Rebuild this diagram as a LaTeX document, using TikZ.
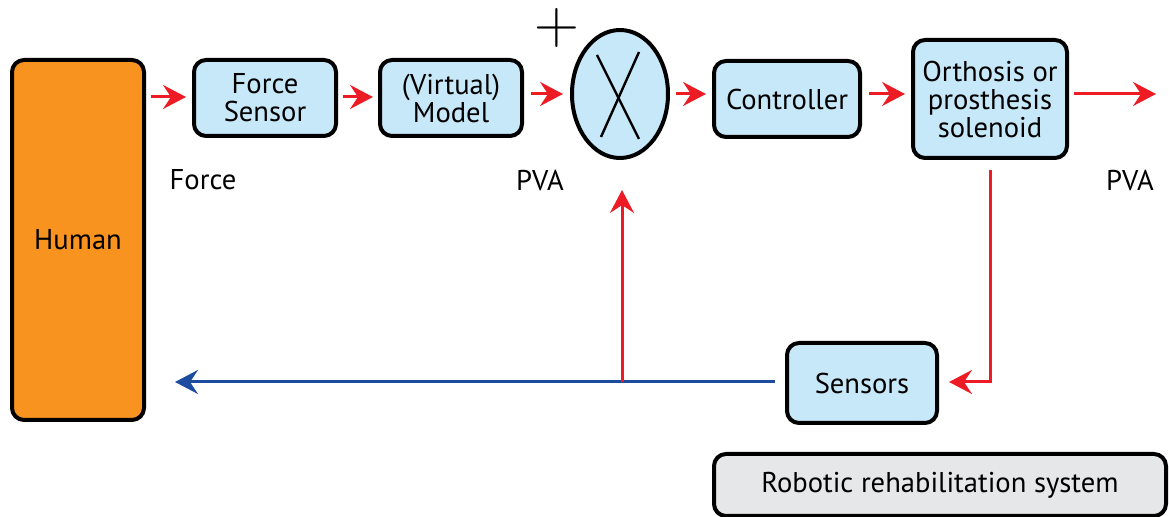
\documentclass[tikz,border=0pt]{standalone}
\usepackage{fontspec}
\setmainfont{PT Sans}
\usetikzlibrary{arrows.meta,shapes.geometric}
\definecolor{boxblue}{HTML}{C7E8F9}
\definecolor{humanorange}{HTML}{F7931E}
\definecolor{sysgray}{HTML}{E6E7E8}
\definecolor{arrred}{HTML}{ED1C24}
\definecolor{arrblue}{HTML}{1D4C9E}
\tikzset{
  x=0.5pt, y=-0.5pt,
  every node/.style={font=\fontsize{14.3}{14}\selectfont},
  blk/.style={draw=black, line width=2pt, rounded corners=6pt, fill=boxblue, align=center, inner sep=0pt},
  redarr/.style={draw=arrred, line width=1.5pt, -{Stealth[length=11.5pt,width=12pt,inset=4pt]}},
  bluearr/.style={draw=arrblue, line width=1.5pt, -{Stealth[length=11.5pt,width=12pt,inset=4pt]}},
  lbl/.style={inner sep=0pt}
}
\begin{document}
\begin{tikzpicture}
\useasboundingbox (0,0) rectangle (1169,517);
% nodes
\node[blk, fill=humanorange, minimum width=66pt, minimum height=180pt] (human) at (78,240) {Human};
\node[blk, minimum width=71pt, minimum height=38pt] (fs) at (265,98) {Force\\Sensor};
\node[blk, minimum width=71pt, minimum height=38pt] (vm) at (451,98) {(Virtual)\\Model};
\node[draw=black, line width=2pt, fill=boxblue, ellipse, minimum width=48pt, minimum height=64pt, inner sep=0pt] (sum) at (620,94) {};
\draw[line width=1.2pt] (597,55) -- (639,139);
\draw[line width=1.2pt] (639,52) -- (601,137);
\node[lbl, font=\fontsize{24.88}{25}\selectfont] (plus) at (557,28) {\scalebox{1.25}{$+$}};
\node[blk, minimum width=73pt, minimum height=38pt] (ctrl) at (787,99) {Controller};
\node[blk, minimum width=77pt, minimum height=59pt] (orth) at (990,99) {Orthosis or\\prosthesis\\solenoid};
\node[blk, minimum width=75pt, minimum height=40pt] (sens) at (862,383) {Sensors};
\node[blk, fill=sysgray, minimum width=226pt, minimum height=31pt] (sys) at (940,485) {Robotic rehabilitation system};
% labels
\node[lbl] (lforce) at (203,180) {Force};
\node[lbl] (lpva1) at (540,180) {PVA};
\node[lbl] (lpva2) at (1130,180) {PVA};
% coordinates
\coordinate (outend) at (1156,94);
\coordinate (corner) at (990,382);
\coordinate (junc) at (622,382);
\coordinate (humanin) at (175,382);
\coordinate (sumin) at (622,190);
% connectors
\draw[redarr, shorten <=2.5pt, shorten >=3pt] (human.east |- 0,97) -- (fs.west |- 0,97);
\draw[redarr, shorten <=2.5pt, shorten >=2.5pt] (fs.east |- 0,97) -- (vm.west |- 0,97);
\draw[redarr, shorten <=3.5pt, shorten >=3.5pt] (vm.east |- 0,94) -- (sum.west);
\draw[redarr, shorten <=3pt, shorten >=3pt] (sum.east) -- (ctrl.west |- 0,94);
\draw[redarr, shorten <=3.5pt, shorten >=3pt] (ctrl.east |- 0,94) -- (orth.west |- 0,94);
\draw[redarr, shorten <=2.5pt] (orth.east |- 0,94) -- (outend);
\draw[redarr, shorten <=5pt, shorten >=5pt] (orth.south) -- (corner) -- (sens.east |- corner);
\draw[arrblue, line width=1.5pt, shorten <=5pt] (sens.west |- junc) -- (junc);
\draw[bluearr] (junc) -- (humanin);
\draw[redarr] (junc) -- (sumin);
\end{tikzpicture}
\end{document}
